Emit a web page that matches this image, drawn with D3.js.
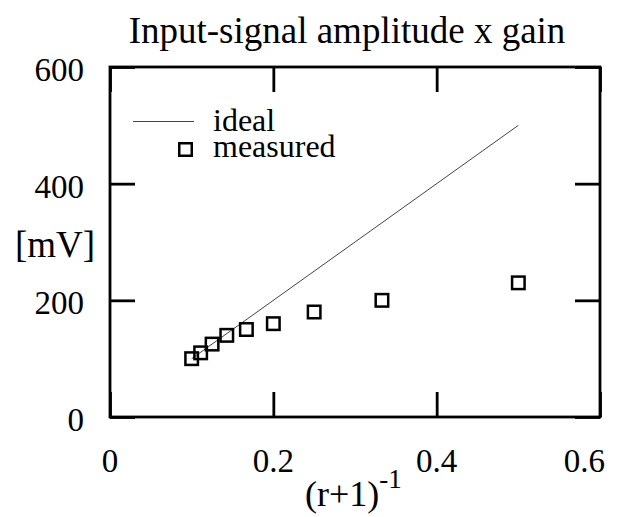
<!DOCTYPE html>
<html>
<head>
<meta charset="utf-8">
<script src="https://cdn.jsdelivr.net/npm/d3@7"></script>
<style>
  html, body { margin: 0; padding: 0; background: #fff; }
  svg { display: block; }
  text { font-family: "Liberation Serif", "DejaVu Serif", serif; fill: #000; }
</style>
</head>
<body>
<svg id="chart" width="617" height="517"></svg>
<script>
// ---- data ----
const measuredX = [0.1, 0.111, 0.125, 0.143, 0.167, 0.2, 0.25, 0.333, 0.5];
const measuredY = [100, 110, 125, 140, 150, 160, 180, 200, 230];
const idealX = [0.1, 0.5];
const idealY = [100, 500];
const xTicks = [0, 0.2, 0.4, 0.6];
const xTickLabels = ["0", "0.2", "0.4", "0.6"];
const yTicks = [0, 200, 400, 600];
const yTickLabels = ["0", "200", "400", "600"];
const seriesNames = ["ideal", "measured"];
const titleText = "Input-signal amplitude x gain";
const yLabelText = "[mV]";

// ---- layout ----
const svg = d3.select("#chart");
const pL = 110, pR = 600, pT = 67, pB = 417;
const x = d3.scaleLinear().domain([0, 0.6]).range([pL, pR]);
const y = d3.scaleLinear().domain([0, 600]).range([pB, pT]);
const tickLen = 25;

// title
svg.append("text")
  .attr("x", 347).attr("y", 43)
  .attr("text-anchor", "middle")
  .style("font-size", "37px")
  .text(titleText);

// axes with inward ticks
const axG = svg.append("g");
const bottomAxis = d3.axisBottom(x).tickValues(xTicks).tickSizeInner(-tickLen).tickSizeOuter(0).tickFormat("");
const topAxis = d3.axisTop(x).tickValues(xTicks).tickSizeInner(-tickLen).tickSizeOuter(0).tickFormat("");
const leftAxis = d3.axisLeft(y).tickValues(yTicks).tickSizeInner(-tickLen).tickSizeOuter(0).tickFormat("");
const rightAxis = d3.axisRight(y).tickValues(yTicks).tickSizeInner(-tickLen).tickSizeOuter(0).tickFormat("");
axG.append("g").attr("transform", `translate(0,${pB})`).call(bottomAxis);
axG.append("g").attr("transform", `translate(0,${pT})`).call(topAxis);
axG.append("g").attr("transform", `translate(${pL},0)`).call(leftAxis);
axG.append("g").attr("transform", `translate(${pR},0)`).call(rightAxis);
axG.selectAll(".domain").remove();
axG.selectAll(".tick line").attr("stroke", "#000").attr("stroke-width", 2.8);

// frame
svg.append("rect")
  .attr("x", pL).attr("y", pT)
  .attr("width", pR - pL).attr("height", pB - pT)
  .attr("fill", "none").attr("stroke", "#000").attr("stroke-width", 2.8);

// tick labels (last one kept inside the window)
svg.append("g").selectAll("text").data(xTicks).join("text")
  .attr("x", (d, i) => i === xTicks.length - 1 ? x(d) + 5 : x(d))
  .attr("y", 472)
  .attr("text-anchor", (d, i) => i === xTicks.length - 1 ? "end" : "middle")
  .style("font-size", "33px")
  .text((d, i) => xTickLabels[i]);
svg.append("g").selectAll("text").data(yTicks).join("text")
  .attr("x", 84).attr("y", d => y(d) + 14)
  .attr("text-anchor", "end")
  .style("font-size", "33px")
  .text((d, i) => yTickLabels[i]);

// axis labels
svg.append("text")
  .attr("x", 55).attr("y", 257)
  .attr("text-anchor", "middle")
  .style("font-size", "37px")
  .text(yLabelText);
const xl = svg.append("text")
  .attr("x", 305).attr("y", 506)
  .style("font-size", "36px");
xl.append("tspan").text("(r+1)");
xl.append("tspan").attr("dy", -18).style("font-size", "27px").text("-1");

// ideal line
const line = d3.line().x(d => x(d[0])).y(d => y(d[1]));
svg.append("path")
  .datum(idealX.map((v, i) => [v, idealY[i]]))
  .attr("d", line)
  .attr("fill", "none").attr("stroke", "#444").attr("stroke-width", 1);

// measured squares
const sq = 12.5;
svg.append("g").selectAll("rect").data(measuredX.map((v, i) => [v, measuredY[i]])).join("rect")
  .attr("x", d => x(d[0]) - sq / 2).attr("y", d => y(d[1]) - sq / 2)
  .attr("width", sq).attr("height", sq)
  .attr("fill", "none").attr("stroke", "#000").attr("stroke-width", 2.5);

// legend
const lg = svg.append("g");
lg.append("line").attr("x1", 133).attr("x2", 194).attr("y1", 121.5).attr("y2", 121.5)
  .attr("stroke", "#444").attr("stroke-width", 1);
lg.append("text").attr("x", 213).attr("y", 131).style("font-size", "32px").text(seriesNames[0]);
lg.append("rect").attr("x", 185.5 - sq / 2).attr("y", 149.5 - sq / 2).attr("width", sq).attr("height", sq)
  .attr("fill", "none").attr("stroke", "#000").attr("stroke-width", 2.5);
lg.append("text").attr("x", 213).attr("y", 157).style("font-size", "32px").text(seriesNames[1]);
</script>
</body>
</html>
